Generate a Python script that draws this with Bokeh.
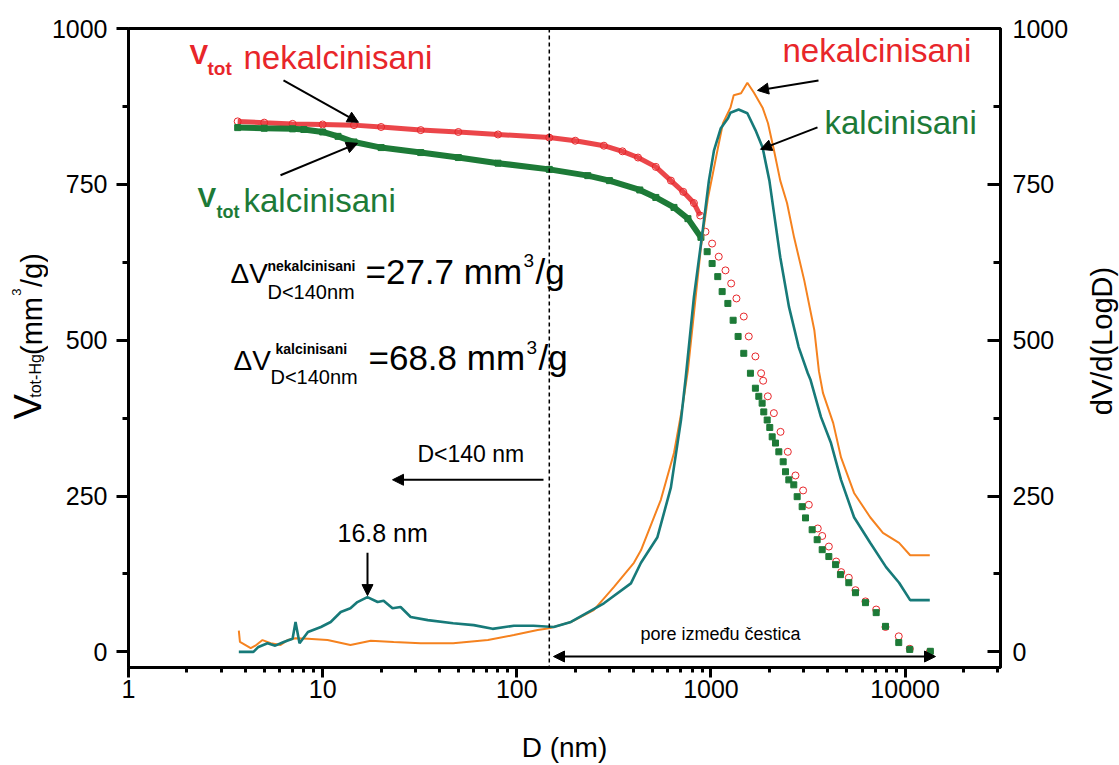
import math
from bokeh.plotting import figure
from bokeh.layouts import row
from bokeh.models import (Range1d, LinearAxis, FixedTicker, PrintfTickFormatter,
                          Label, Arrow, NormalHead, Span)
from bokeh.embed import file_html
from bokeh.resources import INLINE

# ---------------- data ----------------
# cumulative intruded volume, not calcined (open red circles)
red_D = [3.65, 5, 7, 10, 14.5, 20, 32, 50, 80, 147, 200, 281, 350, 421, 520, 622, 720, 817, 880,
         937, 1014, 1097, 1188, 1271, 1353, 1476, 1566, 1694, 1813, 1857, 1963, 2109, 2282, 2488,
         2725, 2983, 3192, 3550, 3741, 4048, 4415, 4688, 5129, 5551, 6250, 7096, 7925, 9275, 10570, 13400]
red_V = [851, 849, 847, 846, 845, 842, 837, 834, 830, 825, 820, 812, 803, 793, 778, 756, 738, 720, 700,
         674, 655, 634, 612, 591, 567, 538, 506, 474, 447, 435, 410, 383, 353, 321,
         283, 259, 236, 198, 186, 169, 145, 128, 119, 99, 81, 68, 40, 25, 5, 0]

# cumulative intruded volume, calcined (filled green squares)
grn_D = [3.65, 5, 7, 8, 10, 12, 14.5, 20, 32, 50, 80, 147, 232, 300, 430, 520, 645, 761, 888,
         956, 1014, 1084, 1142, 1222, 1301, 1380, 1476, 1597, 1694, 1764, 1835, 1871, 1948, 2009,
         2067, 2150, 2237, 2355, 2421, 2518, 2671, 2780, 2950, 3069, 3321, 3524, 3741, 4048, 4385,
         4645, 5129, 5551, 6250, 7096, 7925, 9275, 10570, 13490]
grn_V = [841, 840, 839, 838, 834, 827, 818, 809, 801, 793, 784, 774, 764, 756, 741, 729, 713, 695, 665,
         642, 623, 602, 578, 559, 532, 506, 479, 447, 423, 410, 399, 385, 372, 360,
         345, 335, 321, 305, 289, 276, 268, 249, 233, 215, 196, 180, 164, 153, 140,
         124, 111, 95, 79, 63, 41, 15, 4, 1]

# dV/dlogD, not calcined (orange line)
ora_D = [3.7, 3.75, 4.26, 4.5, 4.9, 5.4, 6.07, 6.6, 7.25, 8.4, 10.6, 13.9, 17.7, 23.2, 32, 47, 71,
         96.6, 128, 147, 190, 249, 316, 401, 436, 552, 645, 718, 761, 888, 966, 1024, 1087, 1153,
         1260, 1310, 1429, 1540, 1666, 1845, 1967, 2114, 2275, 2465, 2680, 3024, 3408, 3600, 3778,
         4264, 4677, 5459, 6609, 7687, 9311, 10620, 13400]
ora_V = [34, 16, 6, 10, 19, 14, 11, 19, 22, 21, 19, 11, 18, 16, 14, 14, 19,
         27, 35, 38, 48, 67, 104, 143, 163, 244, 319, 399, 452, 649, 729, 768, 809, 848,
         873, 893, 896, 913, 897, 873, 848, 804, 756, 720, 665, 596, 516, 450, 415,
         367, 312, 255, 216, 191, 175, 155, 155]

# dV/dlogD, calcined (teal line)
tea_D = [3.7, 4.4, 4.67, 5.2, 5.7, 6.3, 7.0, 7.25, 7.6, 8.4, 9.8, 11, 12.4, 13.9, 15.1, 17, 19.2,
         20.6, 22.9, 25.2, 28.4, 34.8, 47, 60, 75, 96.6, 122, 155, 190, 281, 387, 436, 530, 622,
         701, 742, 817, 907, 976, 1036, 1124, 1224, 1260, 1388, 1540, 1695, 1845, 2000, 2114, 2275,
         2525, 2830, 3153, 3260, 3685, 4152, 4677, 5459, 6609, 7980, 9311, 10620, 13400]
tea_V = [0, 0, 8, 14, 10, 16, 21, 48, 14, 32, 40, 48, 64, 70, 80, 88, 80,
         82, 70, 72, 56, 51, 46, 43, 37, 42, 42, 40, 48, 78, 110, 143, 184, 264,
         372, 441, 569, 676, 756, 804, 840, 856, 865, 870, 864, 837, 809, 756, 703, 633,
         553, 489, 447, 436, 377, 335, 276, 216, 175, 136, 111, 83, 83]

dense_limit = 900          # below this diameter the instrument points overlap into a band
d140 = 147                 # position of the dashed D = 140 nm marker

x_ticks = [1, 10, 100, 1000, 10000]
x_minor = [m * 10 ** e for e in range(0, 5) for m in range(2, 10) if m * 10 ** e < 31000]
y_ticks = [0, 250, 500, 750, 1000]
y_minor = [125, 375, 625, 875]

# ---------------- style / layout ----------------
FONT = "Liberation Sans"
RED = "#e8262a"
GREEN = "#1d7a37"
ORANGE = "#f5821f"
TEAL = "#177a79"

W, H = 1119, 765
LEFT_W, RIGHT_X = 48, 1085          # side strips holding the rotated axis titles
FL, FR, FT, FB = 128, 1000, 28, 668  # frame edges in page pixels
X0, X1 = 1, 31000
Y0, Y1 = -25, 1000
BASE_FIX = 0.4                       # baseline correction (fraction of font size)


def px2x(px):
    lo, hi = math.log10(X0), math.log10(X1)
    return 10 ** (lo + (px - FL) / (FR - FL) * (hi - lo))


def px2y(py):
    return Y0 + (FB - py) / (FB - FT) * (Y1 - Y0)


p = figure(width=RIGHT_X - LEFT_W, height=H, x_axis_type="log",
           x_range=Range1d(X0, X1), y_range=Range1d(Y0, Y1),
           output_backend="svg", toolbar_location=None,
           min_border_left=FL - LEFT_W, min_border_right=RIGHT_X - FR,
           min_border_top=FT, min_border_bottom=H - FB)
p.extra_y_ranges = {"dv": Range1d(Y0, Y1)}
p.xgrid.visible = False
p.ygrid.visible = False
p.outline_line_color = "black"
p.outline_line_width = 3
p.background_fill_color = "white"
p.border_fill_color = "white"


def style_axis(ax):
    ax.axis_line_width = 3
    ax.major_tick_line_width = 3
    ax.minor_tick_line_width = 3
    ax.major_label_text_font = FONT
    ax.major_label_text_font_size = "25px"
    ax.major_label_text_color = "black"
    ax.axis_label_text_font = FONT
    ax.axis_label_text_font_style = "normal"
    ax.axis_label_text_font_size = "28px"
    ax.axis_label_text_color = "black"


xa = p.xaxis[0]
style_axis(xa)
xa.ticker = FixedTicker(ticks=x_ticks, minor_ticks=x_minor)
xa.formatter = PrintfTickFormatter(format="%d")
xa.major_tick_out = 10
xa.major_tick_in = 0
xa.minor_tick_out = 5
xa.minor_tick_in = 0
xa.major_label_standoff = 2
xa.axis_label = "D (nm)"
xa.axis_label_standoff = 31

ya = p.yaxis[0]
style_axis(ya)
ya.ticker = FixedTicker(ticks=y_ticks, minor_ticks=y_minor)
ya.major_tick_out = 12
ya.major_tick_in = 0
ya.minor_tick_out = 6
ya.minor_tick_in = 0
ya.major_label_standoff = 9

ra = LinearAxis(y_range_name="dv")
style_axis(ra)
ra.ticker = FixedTicker(ticks=y_ticks, minor_ticks=y_minor)
ra.major_tick_out = 0
ra.major_tick_in = 13
ra.minor_tick_out = 0
ra.minor_tick_in = 7
ra.major_label_standoff = 12
p.add_layout(ra, "right")

# ---------------- series ----------------
red_dense = [(d, v) for d, v in zip(red_D, red_V) if d <= dense_limit]
grn_dense = [(d, v) for d, v in zip(grn_D, grn_V) if d <= dense_limit]

p.line([d for d, _ in red_dense], [v for _, v in red_dense], line_color=RED, line_width=5, line_alpha=0.85)
p.scatter(red_D, red_V, marker="circle", size=7, line_color=RED, line_width=1, fill_alpha=0)
p.line([d for d, _ in grn_dense], [v for _, v in grn_dense], line_color=GREEN, line_width=6)
p.scatter(grn_D, grn_V, marker="square", size=6, line_color=GREEN, fill_color=GREEN)

p.line(ora_D, ora_V, line_color=ORANGE, line_width=2, y_range_name="dv")
p.line(tea_D, tea_V, line_color=TEAL, line_width=2.6, y_range_name="dv")

p.add_layout(Span(location=d140, dimension="height", line_color="black",
                  line_width=1.5, line_dash="4 3"))


# ---------------- annotations ----------------
def lbl(px, py, text, size, color="black", bold=False):
    p.add_layout(Label(x=px2x(px), y=px2y(py - BASE_FIX * size), text=text, text_font=FONT,
                       text_font_size=f"{size}px", text_color=color,
                       text_font_style="bold" if bold else "normal",
                       text_align="left", text_baseline="alphabetic"))


def arrow(x0, y0, x1, y1, both=False, size=11):
    head = dict(size=size, fill_color="black", line_color="black", line_width=1)
    p.add_layout(Arrow(x_start=px2x(x0), y_start=px2y(y0), x_end=px2x(x1), y_end=px2y(y1),
                       line_color="black", line_width=2,
                       end=NormalHead(**head), start=NormalHead(**head) if both else None))


# V_tot nekalcinisani
lbl(189, 65, "V", 28, RED, bold=True)
lbl(207, 76, "tot", 19, RED, bold=True)
lbl(243, 70, "nekalcinisani", 33, RED)
arrow(283, 80, 358, 122)

# V_tot kalcinisani
lbl(197, 208, "V", 28, GREEN, bold=True)
lbl(216, 219, "tot", 18, GREEN, bold=True)
lbl(243, 213, "kalcinisani", 33, GREEN)
arrow(280, 175, 357, 143)

# Delta V lines
lbl(230, 285, "ΔV", 28)
lbl(267, 271, "nekalcinisani", 14, bold=True)
lbl(267, 300, "D<140nm", 20)
lbl(365, 285, "=27.7 mm", 35)
lbl(523, 268, "3", 19)
lbl(535, 285, "/g", 35)

lbl(233, 372, "ΔV", 28)
lbl(275, 355, "kalcinisani", 14, bold=True)
lbl(270, 385, "D<140nm", 20)
lbl(368, 372, "=68.8 mm", 35)
lbl(526, 355, "3", 19)
lbl(538, 372, "/g", 35)

# D<140 nm
lbl(417, 463, "D<140 nm", 23)
arrow(543, 480, 392, 480)

# 16.8 nm
lbl(337, 543, "16.8 nm", 25)
arrow(367, 553, 367, 596)

# right-hand curve labels
lbl(782, 63, "nekalcinisani", 33, RED)
arrow(818, 80, 757, 90)
lbl(824, 135, "kalcinisani", 33, GREEN)
arrow(817, 127, 760, 149)

# pores between particles
lbl(640, 642, "pore između čestica", 18)
arrow(553, 657, 935, 657, both=True)


# ---------------- side strips with the rotated axis titles ----------------
# In a row, Bokeh aligns the strips' frames with the main frame (FT..FB),
# so the strips' vertical data range is expressed for that frame.
def strip(x_lo, x_hi):
    f = figure(width=x_hi - x_lo, height=H, x_range=Range1d(x_lo, x_hi),
               y_range=Range1d(H - FB, H - FT),
               x_axis_location=None, y_axis_location=None, toolbar_location=None,
               output_backend="svg", min_border=0)
    f.outline_line_color = None
    f.xgrid.visible = False
    f.ygrid.visible = False
    f.background_fill_color = "white"
    f.border_fill_color = "white"
    return f


def vlbl(f, base_x, center_y, text, size):
    # rotated 90 degrees counter-clockwise, centred on its own extent along the text
    f.add_layout(Label(x=base_x - BASE_FIX * size, y=H - center_y, text=text, text_font=FONT,
                       text_font_size=f"{size}px", text_color="black", angle=math.pi / 2,
                       text_align="center", text_baseline="middle"))


left = strip(0, LEFT_W)
vlbl(left, 43, 407, "V", 38)
vlbl(left, 41, 376, "tot-Hg", 16)
vlbl(left, 43, 326, "(mm", 29)
vlbl(left, 21, 292, "3", 13)
vlbl(left, 43, 270, "/g)", 29)

right = strip(RIGHT_X, W)
vlbl(right, 1113, 341, "dV/d(LogD)", 29)

layout = row(left, p, right, spacing=0)
open("out.html", "w").write(file_html(layout, INLINE))
